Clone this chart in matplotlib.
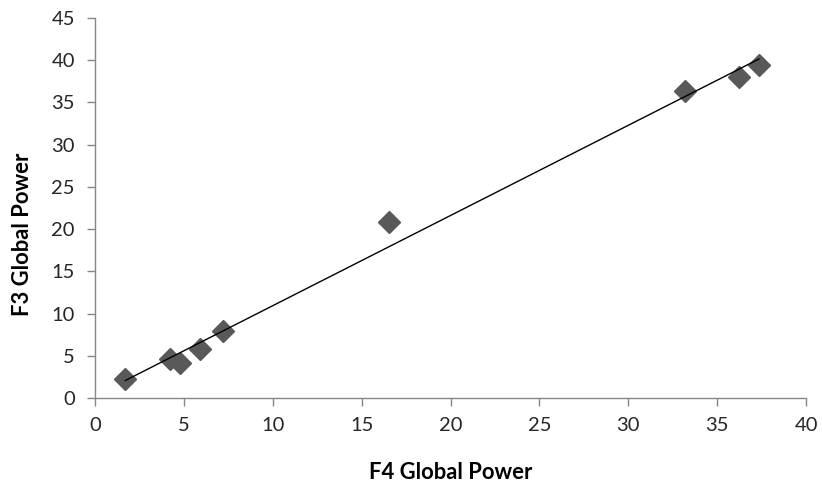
import numpy as np
import matplotlib.pyplot as plt

# F4 vs F3 global power readings
f4_power = [1.7, 4.2, 4.8, 5.9, 7.2, 16.55, 33.2, 36.2, 37.35]
f3_power = [2.3, 4.6, 4.1, 5.8, 7.95, 20.8, 36.4, 38.05, 39.4]

x_ticks = [0, 5, 10, 15, 20, 25, 30, 35, 40]
y_ticks = [0, 5, 10, 15, 20, 25, 30, 35, 40, 45]

plt.rcParams['font.family'] = ['Lato', 'DejaVu Sans']

fig = plt.figure(figsize=(8.22, 4.84), dpi=100)
ax = fig.add_axes([0.1156, 0.1777, 0.865, 0.785])

# linear trendline across the data range
slope, intercept = np.polyfit(f4_power, f3_power, 1)
xs = np.array([min(f4_power), max(f4_power)])
ax.plot(xs, slope * xs + intercept, color='black', lw=1.0, zorder=3)

ax.plot(f4_power, f3_power, linestyle='none', marker='D', ms=11,
        color='#595959', markeredgecolor='#595959', zorder=2)

ax.set_xlim(0, 40)
ax.set_ylim(0, 45)
ax.set_xticks(x_ticks)
ax.set_yticks(y_ticks)

for side in ['top', 'right']:
    ax.spines[side].set_visible(False)
for side in ['left', 'bottom']:
    ax.spines[side].set_color('#868686')
    ax.spines[side].set_linewidth(1.0)
ax.tick_params(direction='out', length=5.5, width=1, color='#868686',
               labelsize=14.5, labelcolor='#262626')
ax.tick_params(axis='y', pad=9)
ax.tick_params(axis='x', pad=8)

ax.set_xlabel('F4 Global Power', fontsize=15.8, fontweight='bold', labelpad=20)
ax.set_ylabel('F3 Global Power', fontsize=15.8, fontweight='bold')
ax.yaxis.set_label_coords(-0.087, 0.43)

fig.savefig('out.png', dpi=100)
